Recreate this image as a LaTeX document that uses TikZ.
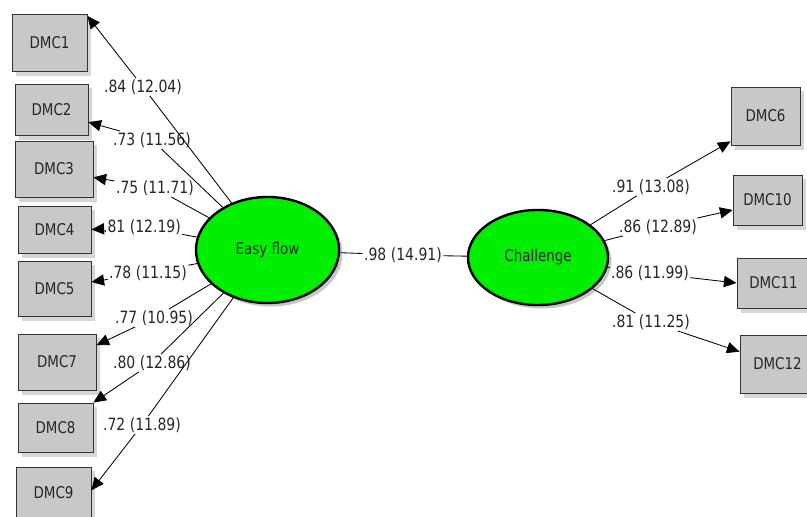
\documentclass[tikz,border=0pt]{standalone}
\usepackage{fontspec}
\setmainfont{DejaVu Sans}[FakeStretch=0.83]
\usetikzlibrary{arrows.meta,shapes.geometric,shadows}
\definecolor{lvgreen}{RGB}{0,238,0}
\definecolor{obsgray}{RGB}{200,200,200}
\tikzset{
  obs/.style={draw=black!80, fill=obsgray, line width=0.6pt, text=black!85,
    font=\fontsize{11.5}{13}\selectfont,
    drop shadow={shadow xshift=2.5pt, shadow yshift=-3.2pt, fill=black!16, opacity=1}},
  lv/.style={ellipse, draw=black, line width=1.7pt, fill=lvgreen, text=black!85,
    font=\fontsize{11.5}{13}\selectfont,
    drop shadow={shadow xshift=2.5pt, shadow yshift=-2.5pt, fill=black!22, opacity=1}},
  est/.style={inner sep=0.8pt, text=black!85, font=\fontsize{12}{14}\selectfont},
  load/.style={line width=0.6pt}
}
\begin{document}
\begin{tikzpicture}[x=0.025cm,y=-0.025cm,>={Triangle[length=9pt,width=8pt]}]
\useasboundingbox (0,0) rectangle (807,517);
\clip (0,0) rectangle (807,517); % vung hinh
% Hai bien tiem an
\node[lv, minimum width=3.575cm, minimum height=2.65cm] (ef) at (267.5,250) {Easy flow};
\node[lv, minimum width=3.5cm, minimum height=2.375cm] (ch) at (538,257.5) {Challenge};
% Cac bien quan sat
\foreach \i/\x/\y/\w/\h in {1/49.5/42.5/1.875/1.425, 2/51.5/109.5/1.825/1.275,
  3/54/169/1.95/1.4, 4/54.5/229.5/1.825/1.175, 5/54.5/288.5/1.825/1.375,
  7/57/362/1.95/1.4, 8/55.5/427.5/1.875/1.225, 9/53.5/493/1.875/1.3,
  6/765.5/116/1.725/1.45, 10/767.5/200/1.725/1.25,
  11/773.5/283/1.825/1.25, 12/777.5/364/1.875/1.45}
\node[obs, minimum width=\w cm, minimum height=\h cm] (dmc\i) at (\x,\y) {DMC\i};
% He so tai
\foreach \i/\x/\y/\t in {1/143/87/.84 (12.04), 2/152/140/.73 (11.56),
  3/155/188/.75 (11.71), 4/142/227/.81 (12.19), 5/148/273/.78 (11.15),
  7/154/318/.77 (10.95), 8/152/363/.80 (12.86), 9/142/425/.72 (11.89),
  6/651/187/.91 (13.08), 10/658/227/.86 (12.89),
  11/650/273/.86 (11.99), 12/651/322/.81 (11.25)}
\node[est] (l\i) at (\x,\y) {\t};
\node[est] (lc) at (403,255) {.98 (14.91)};
% Ve cac duong noi
\foreach \i/\a in {1/35, 2/-19, 3/-12, 4/0, 5/10, 7/23, 8/north east, 9/4}{
\draw[load] (ef) -- (l\i);
\draw[load,->] (l\i) -- (dmc\i.\a);
}
\foreach \i/\a in {6/216, 10/196, 11/180, 12/162}{
\draw[load] (ch) -- (l\i);
\draw[load,->] (l\i) -- (dmc\i.\a);
}
\draw[load] (ef) -- (lc);
\draw[load] (lc) -- (ch);
\end{tikzpicture}
\end{document}
